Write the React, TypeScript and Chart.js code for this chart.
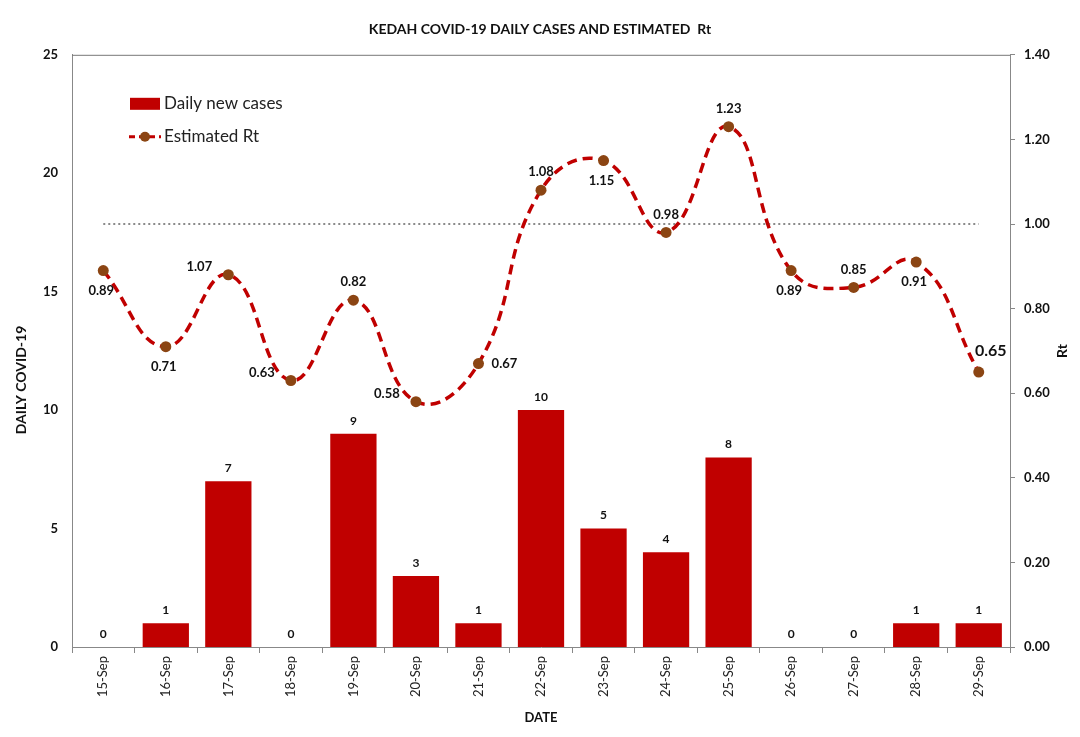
import { useEffect, useRef } from "react";
import { Chart, ChartConfiguration, Plugin, registerables } from "chart.js";

Chart.register(...registerables);

const FONT = "Lato, 'Open Sans', sans-serif";

const dates = [
  "15-Sep", "16-Sep", "17-Sep", "18-Sep", "19-Sep", "20-Sep", "21-Sep", "22-Sep",
  "23-Sep", "24-Sep", "25-Sep", "26-Sep", "27-Sep", "28-Sep", "29-Sep",
];
const dailyCases = [0, 1, 7, 0, 9, 3, 1, 10, 5, 4, 8, 0, 0, 1, 1];
const estimatedRt = [0.89, 0.71, 0.88, 0.63, 0.82, 0.58, 0.67, 1.08, 1.15, 0.98, 1.23, 0.89, 0.85, 0.91, 0.65];
// labels as printed on the original chart (17-Sep reads 1.07)
const rtLabels = ["0.89", "0.71", "1.07", "0.63", "0.82", "0.58", "0.67", "1.08", "1.15", "0.98", "1.23", "0.89", "0.85", "0.91", "0.65"];
const rtLabelSide = ["b", "b", "l", "l", "t", "l", "r", "t", "b", "t", "t", "b", "t", "b", "tr"];
const rtThreshold = 1.0;
const casesTicks = [0, 5, 10, 15, 20, 25];
const rtTicks = [0, 0.2, 0.4, 0.6, 0.8, 1.0, 1.2, 1.4];

const BAR_RED = "#C00000";
const LINE_RED = "#C00000";
const DOT_BROWN = "#8B4513";

const extras: Plugin = {
  id: "extras",
  afterDatasetsDraw(chart) {
    const { ctx, chartArea } = chart;
    ctx.save();
    ctx.fillStyle = "#111";
    ctx.textAlign = "center";
    ctx.textBaseline = "middle";

    // bar value labels
    ctx.font = `bold 12px ${FONT}`;
    const barMeta = chart.getDatasetMeta(0);
    barMeta.data.forEach((el: any, i) => {
      ctx.fillText(String(dailyCases[i]), el.x, el.y - 13);
    });

    // Rt labels
    const lineMeta = chart.getDatasetMeta(1);
    lineMeta.data.forEach((el: any, i) => {
      const side = rtLabelSide[i];
      let dx = 0, dy = 0;
      if (side === "t") dy = -18;
      if (side === "b") { dy = 20; dx = -2; }
      if (side === "l") { dx = -29; dy = -8; }
      if (side === "r") { dx = 26; dy = 0; }
      if (side === "tr") { dx = 12; dy = -21; }
      ctx.font = side === "tr" ? `bold 16px ${FONT}` : `bold 13px ${FONT}`;
      ctx.fillText(rtLabels[i], el.x + dx, el.y + dy);
    });

    // legend inside the plot
    const lx = chartArea.left + 58;
    const ly = chartArea.top + 49;
    ctx.fillStyle = BAR_RED;
    ctx.fillRect(lx, ly - 6, 30, 12);
    ctx.strokeStyle = LINE_RED;
    ctx.lineWidth = 3;
    ctx.setLineDash([6, 4]);
    ctx.beginPath();
    ctx.moveTo(lx - 1, ly + 33);
    ctx.lineTo(lx + 31, ly + 33);
    ctx.stroke();
    ctx.setLineDash([]);
    ctx.fillStyle = DOT_BROWN;
    ctx.beginPath();
    ctx.arc(lx + 15, ly + 33, 5, 0, Math.PI * 2);
    ctx.fill();
    ctx.fillStyle = "#222";
    ctx.textAlign = "left";
    ctx.font = `17px ${FONT}`;
    ctx.fillText("Daily new cases", lx + 34, ly);
    ctx.fillText("Estimated Rt", lx + 34, ly + 33);

    // axis titles, reading bottom to top
    ctx.font = `bold 14px ${FONT}`;
    ctx.fillStyle = "#111";
    ctx.textAlign = "center";
    ctx.save();
    ctx.translate(21, 380);
    ctx.rotate(-Math.PI / 2);
    ctx.fillText("DAILY COVID-19", 0, 0);
    ctx.restore();
    ctx.translate(1062, (chartArea.top + chartArea.bottom) / 2);
    ctx.rotate(-Math.PI / 2);
    ctx.fillText("Rt", 0, 0);
    ctx.restore();
  },
};

export default function App() {
  const canvasRef = useRef<HTMLCanvasElement>(null);
  const chartRef = useRef<Chart | null>(null);

  useEffect(() => {
    if (!canvasRef.current) return;
    const ctx = canvasRef.current.getContext("2d");
    if (!ctx) return;

    if (chartRef.current) chartRef.current.destroy();

    const config: ChartConfiguration = {
      type: "bar",
      data: {
        labels: dates,
        datasets: [
          {
            type: "bar",
            label: "Daily new cases",
            data: dailyCases,
            backgroundColor: BAR_RED,
            yAxisID: "y",
            barPercentage: 0.74,
            categoryPercentage: 1,
            order: 3,
          },
          {
            type: "line",
            label: "Estimated Rt",
            data: estimatedRt,
            yAxisID: "y1",
            borderColor: LINE_RED,
            borderWidth: 3.5,
            borderDash: [10, 6],
            tension: 0.45,
            pointRadius: 5.5,
            pointBackgroundColor: DOT_BROWN,
            pointBorderColor: DOT_BROWN,
            pointBorderWidth: 0,
            fill: false,
            order: 1,
          } as any,
          {
            type: "line",
            label: "Rt = 1",
            data: dates.map(() => rtThreshold),
            yAxisID: "y1",
            borderColor: "#8a8a8a",
            borderWidth: 2,
            borderDash: [2, 3],
            pointRadius: 0,
            fill: false,
            order: 2,
          } as any,
        ],
      },
      options: {
        responsive: false,
        animation: false,
        layout: { padding: 0 },
        plugins: {
          legend: { display: false },
          tooltip: { enabled: false },
          title: {
            display: true,
            text: "KEDAH COVID-19 DAILY CASES AND ESTIMATED  Rt",
            color: "#111",
            font: { family: FONT, size: 14, weight: "bold" },
            padding: { top: 21, bottom: 17 },
          },
        },
        scales: {
          x: {
            offset: true,
            grid: {
              display: true,
              offset: true,
              drawOnChartArea: false,
              drawTicks: true,
              tickLength: 6,
              color: "#888",
            },
            border: { color: "#888", width: 1 },
            ticks: {
              minRotation: 90,
              maxRotation: 90,
              color: "#222",
              padding: 3,
              font: { family: FONT, size: 13 },
            },
            title: {
              display: true,
              text: "DATE",
              color: "#111",
              font: { family: FONT, size: 13, weight: "bold" },
              padding: { top: 0, bottom: 11 },
            },
            afterFit: (scale: any) => { scale.height = 90; },
          },
          y: {
            position: "left",
            min: 0,
            max: 25,
            afterBuildTicks: (scale: any) => { scale.ticks = casesTicks.map((v) => ({ value: v })); },
            grid: { display: false, drawTicks: false },
            border: { color: "#888", width: 1 },
            ticks: {
              color: "#111",
              padding: 14,
              font: { family: FONT, size: 13, weight: "bold" },
            },
            afterFit: (scale: any) => { scale.width = 72; },
          },
          y1: {
            position: "right",
            min: 0,
            max: 1.4,
            afterBuildTicks: (scale: any) => { scale.ticks = rtTicks.map((v) => ({ value: v })); },
            grid: {
              display: true,
              drawOnChartArea: false,
              drawTicks: true,
              tickLength: 5,
              color: "#888",
            },
            border: { color: "#888", width: 1 },
            ticks: {
              color: "#111",
              padding: 9,
              font: { family: FONT, size: 13, weight: "bold" },
              callback: (v: any) => Number(v).toFixed(2),
            },
            afterFit: (scale: any) => { scale.width = 70; },
          },
        },
      },
      plugins: [
        extras,
        {
          id: "frameTop",
          afterDraw(chart) {
            const { ctx, chartArea } = chart;
            ctx.save();
            ctx.strokeStyle = "#777";
            ctx.lineWidth = 1;
            ctx.beginPath();
            ctx.moveTo(chartArea.left, chartArea.top + 0.5);
            ctx.lineTo(chartArea.right, chartArea.top + 0.5);
            ctx.stroke();
            ctx.restore();
          },
        },
      ],
    };

    chartRef.current = new Chart(ctx, config);

    return () => {
      if (chartRef.current) {
        chartRef.current.destroy();
        chartRef.current = null;
      }
    };
  }, []);

  return (
    <div style={{ position: "absolute", left: 0, top: 0, width: 1080, height: 737, background: "#fff" }}>
      <canvas ref={canvasRef} width={1080} height={737} style={{ width: 1080, height: 737 }} />
    </div>
  );
}
